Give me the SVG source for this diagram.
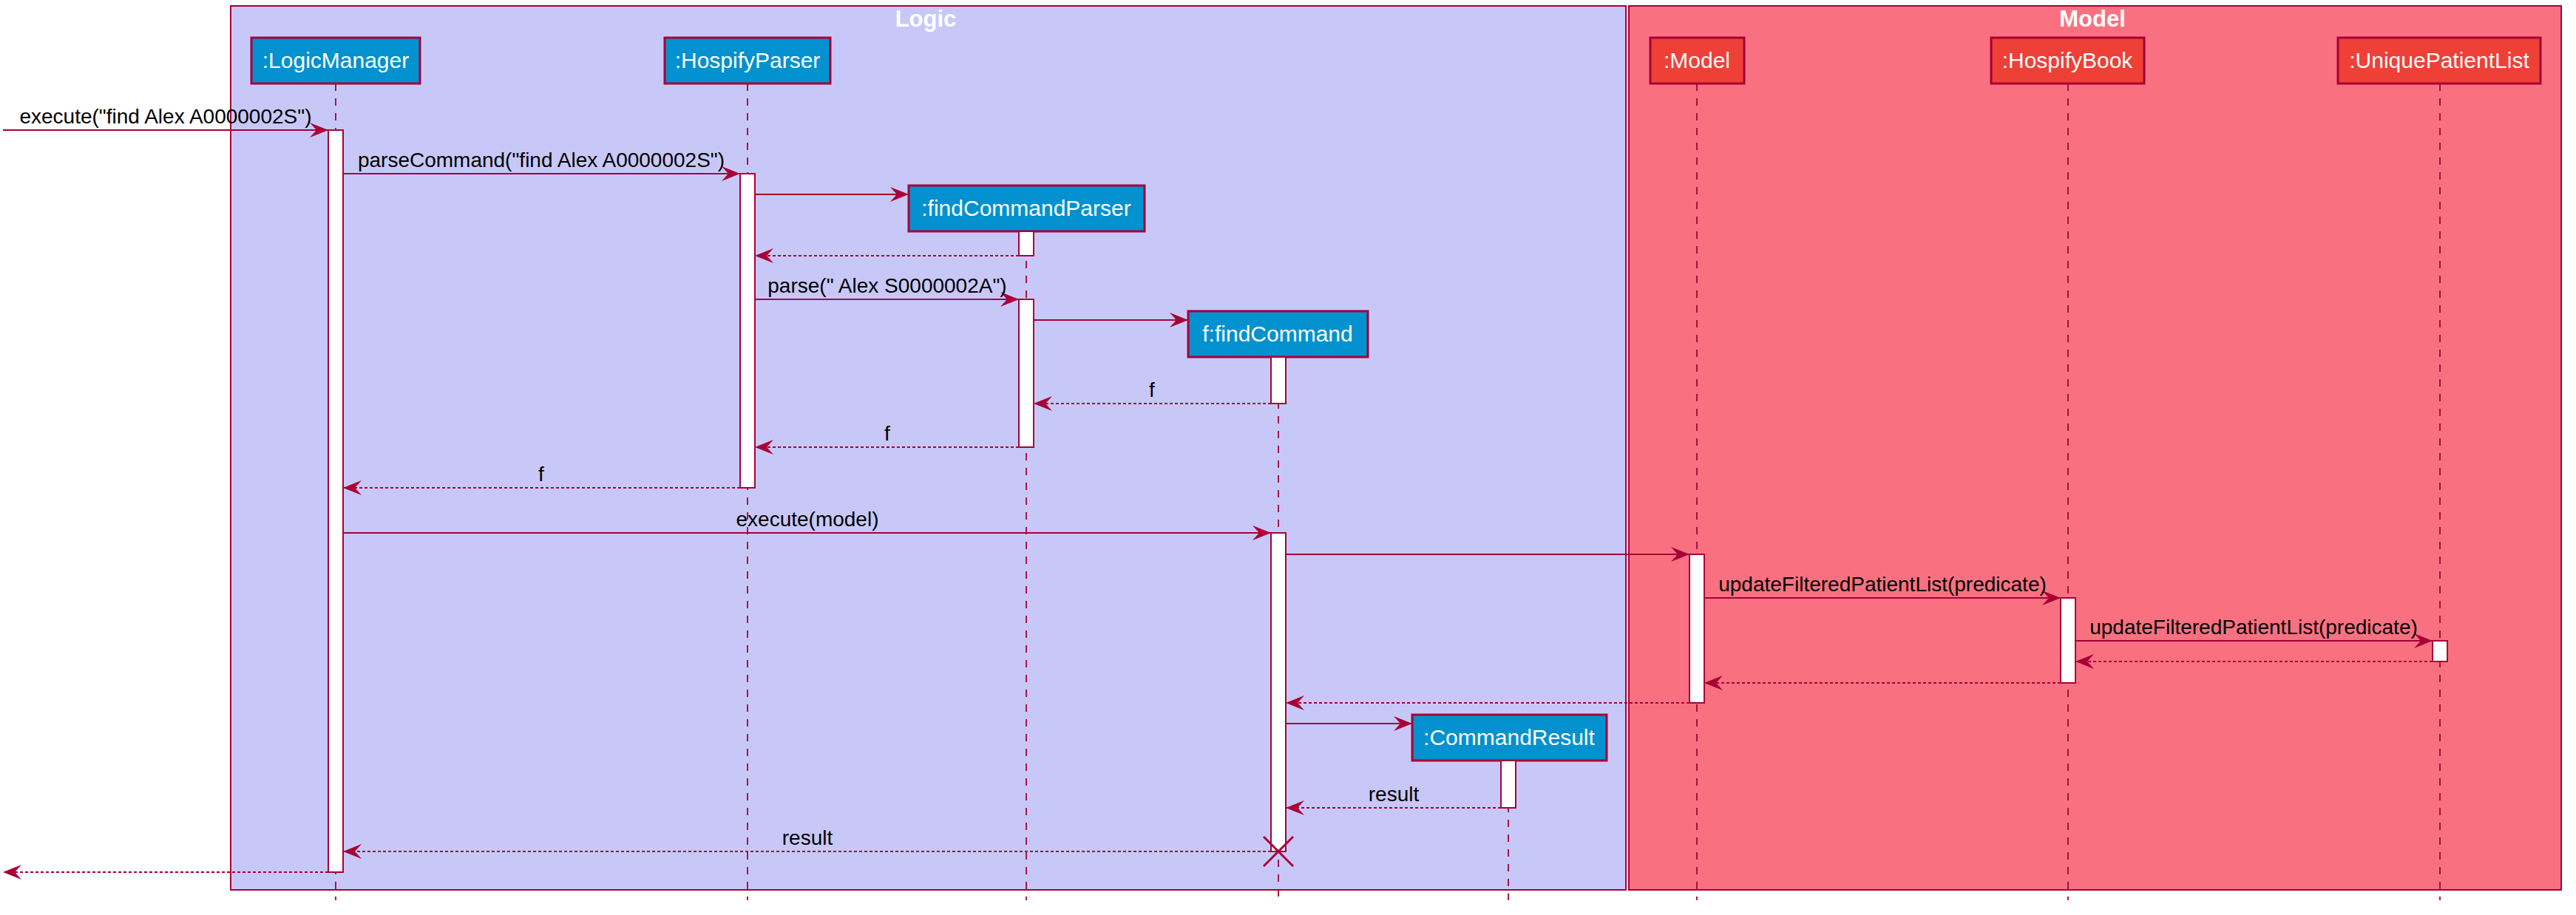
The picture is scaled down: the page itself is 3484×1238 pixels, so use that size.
<svg xmlns="http://www.w3.org/2000/svg" width="3484" height="1238" viewBox="0 0 3484 1238">
<defs>
<style>
.frame{stroke:#A80036;stroke-width:2}
.ftitle{font-family:"Liberation Sans",Arial,sans-serif;font-weight:bold;font-size:31px;fill:#FFFFFF;text-anchor:middle}
.pbox{stroke:#A80036;stroke-width:3}
.blue{fill:#0391CF}
.red{fill:#EF4037}
.ptext{font-family:"Liberation Sans",Arial,sans-serif;font-size:30px;fill:#FFFFFF;text-anchor:middle}
.life{stroke:#A80036;stroke-width:1.8;stroke-dasharray:10,10;fill:none}
.act{fill:#FFFFFF;stroke:#A80036;stroke-width:2}
.msg{stroke:#A80036;stroke-width:2;fill:none;marker-end:url(#ah)}
.ret{stroke:#A80036;stroke-width:2;fill:none;stroke-dasharray:4,3;marker-end:url(#ah)}
.lbl{font-family:"Liberation Sans",Arial,sans-serif;font-size:28px;fill:#000000;text-anchor:middle}
</style>
<marker id="ah" viewBox="0 0 26 22" refX="25" refY="11" markerWidth="26" markerHeight="22" markerUnits="userSpaceOnUse" orient="auto">
<path d="M0,1 L25,11 L0,21 L9,11 Z" fill="#A80036"/>
</marker>
</defs>
<rect width="3484" height="1238" fill="#FFFFFF"/>

<g id="frame-logic">
<rect class="frame" x="312" y="8" width="1887" height="1196" fill="#C8C8F8"/>
<text class="ftitle" x="1252" y="36">Logic</text>
</g>
<g id="frame-model">
<rect class="frame" x="2203" y="8" width="1261" height="1196" fill="#F97181"/>
<text class="ftitle" x="2830" y="36">Model</text>
</g>

<g id="lifelines">
<line class="life" x1="454" y1="113" x2="454" y2="1218"/>
<line class="life" x1="1011" y1="113" x2="1011" y2="1218"/>
<line class="life" x1="1388" y1="313" x2="1388" y2="1218"/>
<line class="life" x1="1729" y1="483" x2="1729" y2="1213"/>
<line class="life" x1="2040" y1="1029" x2="2040" y2="1218"/>
<line class="life" x1="2295" y1="113" x2="2295" y2="1218"/>
<line class="life" x1="2797" y1="113" x2="2797" y2="1218"/>
<line class="life" x1="3300" y1="113" x2="3300" y2="1218"/>
</g>

<g id="LogicManager">
<rect class="pbox blue" x="340" y="51" width="228" height="62"/>
<text class="ptext" x="454" y="92">:LogicManager</text>
<rect class="act" x="444" y="176" width="20" height="1004"/>
</g>
<g id="HospifyParser">
<rect class="pbox blue" x="899" y="51" width="224" height="62"/>
<text class="ptext" x="1011" y="92">:HospifyParser</text>
<rect class="act" x="1001" y="235" width="20" height="425"/>
</g>
<g id="findCommandParser">
<rect class="pbox blue" x="1229" y="251" width="319" height="62"/>
<text class="ptext" x="1388" y="292">:findCommandParser</text>
<rect class="act" x="1378" y="313" width="20" height="33"/>
<rect class="act" x="1378" y="405" width="20" height="200"/>
</g>
<g id="findCommand">
<rect class="pbox blue" x="1607" y="421" width="243" height="62"/>
<text class="ptext" x="1728" y="462">f:findCommand</text>
<rect class="act" x="1719" y="483" width="20" height="63"/>
<rect class="act" x="1719" y="721" width="20" height="431"/>
<path d="M1709,1132 L1749,1172 M1749,1132 L1709,1172" stroke="#A80036" stroke-width="3" fill="none"/>
</g>
<g id="CommandResult">
<rect class="pbox blue" x="1910" y="967" width="263" height="62"/>
<text class="ptext" x="2041" y="1008">:CommandResult</text>
<rect class="act" x="2030" y="1029" width="20" height="64"/>
</g>
<g id="Model">
<rect class="pbox red" x="2232" y="51" width="127" height="62"/>
<text class="ptext" x="2295" y="92">:Model</text>
<rect class="act" x="2285" y="750" width="20" height="201"/>
</g>
<g id="HospifyBook">
<rect class="pbox red" x="2693" y="51" width="207" height="62"/>
<text class="ptext" x="2796" y="92">:HospifyBook</text>
<rect class="act" x="2787" y="809" width="20" height="115"/>
</g>
<g id="UniquePatientList">
<rect class="pbox red" x="3162" y="51" width="274" height="62"/>
<text class="ptext" x="3299" y="92">:UniquePatientList</text>
<rect class="act" x="3290" y="867" width="20" height="28"/>
</g>

<g id="connectors">
<line class="msg" x1="4" y1="176" x2="444" y2="176"/>
<text class="lbl" x="224" y="167">execute("find Alex A0000002S")</text>
<line class="msg" x1="464" y1="235" x2="1001" y2="235"/>
<text class="lbl" x="732" y="226">parseCommand("find Alex A0000002S")</text>
<line class="msg" x1="1021" y1="263" x2="1229" y2="263"/>
<line class="ret" x1="1378" y1="346" x2="1021" y2="346"/>
<line class="msg" x1="1021" y1="405" x2="1378" y2="405"/>
<text class="lbl" x="1200" y="396">parse(" Alex S0000002A")</text>
<line class="msg" x1="1398" y1="433" x2="1607" y2="433"/>
<line class="ret" x1="1719" y1="546" x2="1398" y2="546"/>
<text class="lbl" x="1558" y="537">f</text>
<line class="ret" x1="1378" y1="605" x2="1021" y2="605"/>
<text class="lbl" x="1200" y="596">f</text>
<line class="ret" x1="1001" y1="660" x2="464" y2="660"/>
<text class="lbl" x="732" y="651">f</text>
<line class="msg" x1="464" y1="721" x2="1719" y2="721"/>
<text class="lbl" x="1092" y="712">execute(model)</text>
<line class="msg" x1="1739" y1="750" x2="2285" y2="750"/>
<line class="msg" x1="2305" y1="809" x2="2787" y2="809"/>
<text class="lbl" x="2546" y="800">updateFilteredPatientList(predicate)</text>
<line class="msg" x1="2807" y1="867" x2="3290" y2="867"/>
<text class="lbl" x="3048" y="858">updateFilteredPatientList(predicate)</text>
<line class="ret" x1="3290" y1="895" x2="2807" y2="895"/>
<line class="ret" x1="2787" y1="924" x2="2305" y2="924"/>
<line class="ret" x1="2285" y1="951" x2="1739" y2="951"/>
<line class="msg" x1="1739" y1="979" x2="1910" y2="979"/>
<line class="ret" x1="2030" y1="1093" x2="1739" y2="1093"/>
<text class="lbl" x="1885" y="1084">result</text>
<line class="ret" x1="1719" y1="1152" x2="464" y2="1152"/>
<text class="lbl" x="1092" y="1143">result</text>
<line class="ret" x1="444" y1="1180" x2="4" y2="1180"/>
</g>
</svg>
